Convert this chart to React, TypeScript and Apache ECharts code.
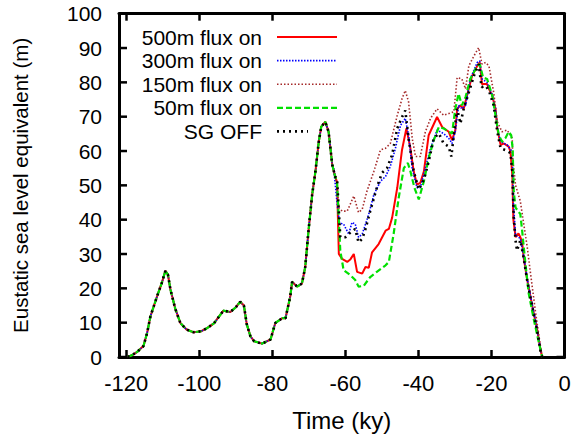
import React, { useEffect, useRef } from "react";
import * as echarts from "echarts";

// Time in ky (negative = before present), sea level equivalent in m
const sharedHistory: [number, number][] = [
  [-119.6, 0], [-118.5, 0.5], [-117, 1.5], [-115.3, 3.2], [-114.3, 7], [-113.4, 11.8],
  [-111.6, 17.6], [-110.3, 21.5], [-109.3, 25.1], [-108.6, 24], [-107.9, 19.6], [-106.6, 14.1],
  [-105.2, 9.9], [-103.5, 8], [-101.6, 7.2], [-99.5, 7.5], [-97.9, 8.4], [-96, 9.8],
  [-93.4, 13.5], [-91.5, 13.1], [-90, 14.5], [-88.8, 16.1], [-87.8, 15], [-87, 9.5],
  [-86, 6], [-85, 4.6], [-82.8, 3.9], [-80.5, 5.1], [-79.2, 9.9], [-77.3, 11.3],
  [-76.4, 11.3], [-75.1, 17.6], [-74.6, 21.9], [-73.2, 20.5], [-71.9, 21.4], [-71.0, 26.2],
  [-70.1, 36.8], [-69.1, 47.3], [-68.2, 54.1], [-67.3, 62.7], [-66.6, 67.1], [-65.5, 68.5],
  [-64.6, 65.6], [-63.6, 56], [-62.8, 52.5],
];

const flux500Tail: [number, number][] = [
  [-62.3, 51], [-61.8, 30], [-60.9, 28.6], [-59.5, 27.7], [-58.6, 28.5], [-57.7, 30],
  [-56.8, 24.8], [-55.4, 24.3], [-54.5, 26.2], [-53.6, 26], [-52.7, 30.5], [-50.9, 32.9],
  [-49.0, 36.8], [-48.1, 37.3], [-47.2, 40.6], [-45.8, 49.3], [-44.5, 60.3], [-43.3, 66.6],
  [-42.2, 60.8], [-41.3, 54.1], [-40.4, 50.2], [-39.5, 50.7], [-38.5, 54.1], [-37.2, 64.6],
  [-34.9, 69.9], [-33.5, 67], [-31.7, 65.6], [-30.8, 63.2], [-29.9, 66.1], [-29.4, 72.3],
  [-28.5, 73.3], [-27.6, 72.3], [-26.7, 76.2], [-25.3, 81.9], [-23.9, 84.8], [-23.2, 85.8],
  [-22.6, 79.5], [-21.2, 79.5], [-20.7, 78.1], [-19.8, 76.2], [-18.9, 72.3], [-18.4, 66.6],
  [-17.5, 61.8], [-16.6, 62.2], [-15.3, 61.3], [-14.8, 59.9], [-14.3, 53.1], [-14.0, 40],
  [-13.4, 34.9], [-12.6, 36], [-12.1, 34.9], [-11.6, 33.4], [-11.2, 29.1], [-10.2, 22.4],
  [-8.8, 14.7], [-7.5, 8], [-6.6, 2.2], [-6.1, 0],
];

const flux300Tail: [number, number][] = [
  [-63.2, 55], [-62.3, 45], [-61.6, 39], [-60.5, 38.7], [-59.1, 35.8], [-58.2, 39.2],
  [-57.3, 38.7], [-56.4, 34.9], [-55.4, 35.8], [-54.5, 38.7], [-53.6, 41.6], [-52.2, 47.3],
  [-50.4, 51.2], [-49.0, 52.6], [-47.7, 55.5], [-46.3, 60.8], [-44.9, 67.5], [-43.6, 69.5],
  [-42.7, 64.6], [-41.7, 55], [-40.4, 49.3], [-39.5, 49.3], [-38.1, 55], [-36.7, 60.8],
  [-34.9, 66.1], [-33.1, 65.1], [-31.7, 63.7], [-30.8, 62.2], [-29.9, 65.7], [-29.0, 73.3],
  [-28.1, 72.3], [-27.1, 73.3], [-25.8, 81], [-23.9, 85.8], [-23.2, 86.2], [-22.6, 81],
  [-21.2, 80], [-20.7, 78.5], [-19.8, 76.5], [-18.9, 72.5], [-18.4, 67], [-17.5, 62.7],
  [-15.7, 61.8], [-14.3, 59.8], [-14.0, 45], [-13.4, 35.5], [-12.1, 34.5], [-11.2, 29.5],
  [-10.2, 22.8], [-8.8, 15], [-7.5, 8.2], [-6.6, 2.4], [-6.1, 0],
];

const flux150Tail: [number, number][] = [
  [-62.3, 50.2], [-61.8, 43.5], [-60.9, 42.5], [-59.5, 42.5], [-57.7, 46.9], [-56.4, 42.1],
  [-55.4, 43], [-54.1, 48.3], [-52.2, 54.1], [-50.4, 60.3], [-49, 60.8], [-47.7, 62.2],
  [-45.8, 70.4], [-44.5, 75.2], [-43.6, 77.6], [-42.7, 74.3], [-41.7, 63.7], [-40.8, 58.4],
  [-39.5, 58.4], [-38.1, 65.6], [-36.7, 69.5], [-34.9, 72.3], [-33.1, 70.4], [-31.7, 70.9],
  [-30.3, 71.4], [-29.4, 81.4], [-28.1, 81], [-27.1, 78.1], [-26.2, 84.8], [-24.8, 87.7],
  [-23.5, 90.1], [-22.6, 85.3], [-21.6, 85.8], [-20.7, 84.8], [-19.4, 77.1], [-18.4, 68.5],
  [-17.1, 65.6], [-15.7, 66.1], [-14.3, 63.7], [-14.2, 57.9], [-13.4, 50], [-12.1, 45.4],
  [-11.2, 39], [-10.2, 32], [-9.3, 24.3], [-7.9, 12.8], [-6.6, 3.2], [-6.1, 0],
];

const flux50Tail: [number, number][] = [
  [-62.3, 51.2], [-61.4, 31], [-60.5, 25.3], [-58.6, 23.8], [-57.3, 22.4], [-56.4, 20.5],
  [-55, 20.7], [-53.2, 23.3], [-51.4, 24.8], [-49, 26.7], [-48.1, 27.7], [-46.8, 35.8],
  [-45.4, 46.4], [-44, 55], [-42.9, 56.5], [-42.2, 54.1], [-41.1, 49.3], [-39.9, 45.9],
  [-38.5, 51.2], [-37.2, 57.9], [-35.8, 63.2], [-34.4, 67], [-33.1, 66.6], [-31.7, 65.6],
  [-30.8, 65.1], [-29.9, 72.3], [-29, 76.7], [-28.1, 73.3], [-27.1, 75.7], [-25.8, 81],
  [-23.9, 84.8], [-23.2, 85.3], [-22.3, 81.4], [-21.2, 81], [-19.8, 76.2], [-18.9, 70.4],
  [-18, 64.6], [-17.1, 62.7], [-16.2, 63.7], [-15.3, 65.6], [-14.6, 64.6], [-14.2, 60.8],
  [-13.9, 48.3], [-13.4, 43.5], [-12.1, 41.6], [-11.6, 36.8], [-10.7, 27.2], [-9.8, 18.5],
  [-8.4, 10.9], [-7, 4.1], [-6.1, 0],
];

const sgOffTail: [number, number][] = [
  [-62.3, 52], [-61.4, 34.9], [-60, 34.9], [-58.6, 36.3], [-57.3, 37.3], [-56.4, 33.4],
  [-55.4, 34.4], [-54.5, 37.3], [-53.2, 42.5], [-51.4, 49.3], [-50, 53.6], [-48.6, 55],
  [-47.2, 58.9], [-45.8, 66.6], [-44.5, 69.9], [-43.6, 71.8], [-42.7, 63.7], [-41.3, 54.1],
  [-39.9, 48.8], [-38.5, 51.7], [-37.2, 56.9], [-35.8, 63.7], [-34.4, 65.1], [-33.1, 62.2],
  [-31.7, 61.3], [-31, 58.4], [-30.3, 64.6], [-29.4, 72.3], [-28.5, 68], [-27.6, 72.3],
  [-26.2, 77.1], [-24.8, 81.9], [-23.5, 85.3], [-22.7, 78.6], [-21.6, 79], [-20.7, 77.6],
  [-19.4, 73.3], [-18.4, 65.6], [-17.5, 60.8], [-16.2, 60.3], [-14.8, 59.4], [-14.3, 54.1],
  [-13.9, 40.6], [-13.4, 33.9], [-13, 31], [-12.1, 34], [-11.2, 29], [-10.2, 22.2],
  [-8.8, 14.5], [-7.5, 7.8], [-6.6, 2], [-6.1, 0],
];

const seriesNames = ["500m flux on", "300m flux on", "150m flux on", "50m flux on", "SG OFF"];
const xTickValues = [-120, -100, -80, -60, -40, -20, 0];
const yTickValues = [0, 10, 20, 30, 40, 50, 60, 70, 80, 90, 100];
const xRange = [-122, 0];

const FONT = "Liberation Sans, Arial, Helvetica, sans-serif";

export default function App() {
  const ref = useRef<HTMLDivElement>(null);
  useEffect(() => {
    if (!ref.current) return;
    const chart = echarts.init(ref.current, null, { renderer: "svg" });
    const styles = [
      { color: "#ff0000", width: 2, type: "solid" as any },
      { color: "#0000ff", width: 1.6, type: [1.5, 1.5] },
      { color: "#a52a2a", width: 1.6, type: [1.5, 2] },
      { color: "#00e000", width: 2.2, type: [6, 3] },
      { color: "#000000", width: 2.6, type: [2, 4] },
    ];
    const tails = [flux500Tail, flux300Tail, flux150Tail, flux50Tail, sgOffTail];
    const series = seriesNames.map((name, i) => ({
      name,
      type: "line",
      xAxisIndex: 0,
      yAxisIndex: 0,
      data: [...sharedHistory, ...tails[i]],
      symbol: "none",
      silent: true,
      lineStyle: { color: styles[i].color, width: styles[i].width, type: styles[i].type },
      z: 2 + i,
    }));

    const gridLeft = 119;
    const gridRight = 576 - 564.5;
    const gridTop = 13.7;
    const gridBottom = 437 - 361.7;
    const tickStyle = { color: "#000", width: 2.5 };

    chart.setOption({
      animation: false,
      backgroundColor: "#ffffff",
      grid: { left: gridLeft, right: gridRight, top: gridTop, bottom: gridBottom, containLabel: false },
      xAxis: [
        {
          type: "value",
          min: xRange[0],
          max: xRange[1],
          position: "bottom",
          name: "Time (ky)",
          nameLocation: "middle",
          nameGap: 51,
          nameTextStyle: { fontFamily: FONT, fontSize: 24, color: "#000" },
          axisLine: { show: true, onZero: false, lineStyle: { color: "#000", width: 3 } },
          axisTick: { show: true, inside: true, length: 7, customValues: xTickValues, lineStyle: tickStyle },
          axisLabel: { customValues: xTickValues, fontFamily: FONT, fontSize: 22, color: "#000", margin: 15 },
          splitLine: { show: false },
        },
        {
          type: "value",
          min: xRange[0],
          max: xRange[1],
          position: "top",
          axisLine: { show: true, onZero: false, lineStyle: { color: "#000", width: 3 } },
          axisTick: { show: true, inside: true, length: 7, customValues: xTickValues, lineStyle: tickStyle },
          axisLabel: { show: false },
          splitLine: { show: false },
        },
      ],
      yAxis: [
        {
          type: "value",
          min: 0,
          max: 100,
          interval: 10,
          position: "left",
          name: "Eustatic sea level equivalent (m)",
          nameLocation: "middle",
          nameGap: 88,
          nameTextStyle: { fontFamily: FONT, fontSize: 20.5, color: "#000" },
          axisLine: { show: true, onZero: false, lineStyle: { color: "#000", width: 3 } },
          axisTick: { show: false },
          axisLabel: { fontFamily: FONT, fontSize: 21, color: "#000", margin: 17 },
          splitLine: { show: false },
        },
        {
          type: "value",
          min: 0,
          max: 100,
          interval: 10,
          position: "right",
          axisLine: { show: true, onZero: false, lineStyle: { color: "#000", width: 3 } },
          axisTick: { show: false },
          axisLabel: { show: false },
          splitLine: { show: false },
        },
      ],
      series,
    });

    // legend (gnuplot style: right-aligned text, sample line to the right)
    const legendX1 = 277;
    const legendX2 = 337;
    const legendTextX = 262;
    const legendY0 = 37;
    const legendStep = 23.6;
    const graphics: any[] = [];
    seriesNames.forEach((name, i) => {
      const y = legendY0 + i * legendStep;
      graphics.push({
        type: "text",
        x: legendTextX,
        y,
        z: 100,
        style: {
          text: name,
          fill: "#000",
          font: `21px ${FONT}`,
          textAlign: "right",
          textVerticalAlign: "middle",
        },
      });
      graphics.push({
        type: "line",
        z: 100,
        shape: { x1: legendX1, y1: y, x2: i === 4 ? 308 : legendX2, y2: y },
        style: {
          stroke: styles[i].color,
          lineWidth: styles[i].width,
          lineDash: Array.isArray(styles[i].type) ? styles[i].type : null,
        },
      });
    });

    // y ticks on left and right borders, placed through the axis scale
    const xl = chart.convertToPixel({ xAxisIndex: 0 }, xRange[0]) as number;
    const xr = chart.convertToPixel({ xAxisIndex: 0 }, xRange[1]) as number;
    yTickValues.forEach((v) => {
      const py = chart.convertToPixel({ yAxisIndex: 0 }, v) as number;
      graphics.push({
        type: "line",
        z: 50,
        silent: true,
        shape: { x1: xl, y1: py, x2: xl + 8, y2: py },
        style: { stroke: "#000", lineWidth: 2.5 },
      });
      graphics.push({
        type: "line",
        z: 50,
        silent: true,
        shape: { x1: xr - 8, y1: py, x2: xr, y2: py },
        style: { stroke: "#000", lineWidth: 2.5 },
      });
    });

    chart.setOption({ graphic: graphics });
    return () => chart.dispose();
  }, []);
  return (
    <div
      ref={ref}
      style={{ position: "fixed", left: 0, top: 0, width: 576, height: 437, background: "#fff" }}
    />
  );
}
